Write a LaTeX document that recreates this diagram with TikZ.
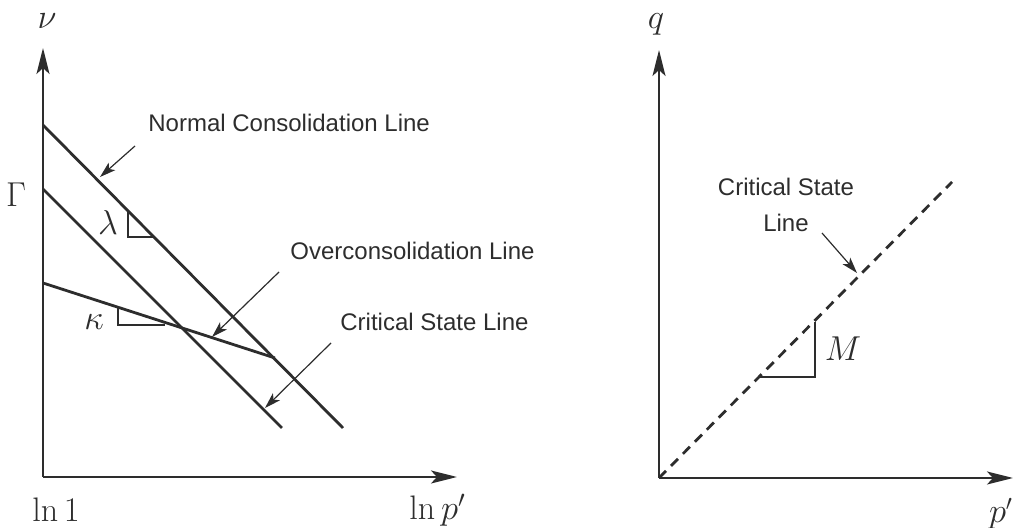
\documentclass[tikz,border=0pt]{standalone}
\usepackage{fontspec}
\newfontfamily\lblfont{Liberation Sans}
\usetikzlibrary{arrows.meta}
\definecolor{ink}{RGB}{45,45,45}
\begin{document}
\begin{tikzpicture}[x=0.5pt,y=-0.5pt,
  axis/.style={line width=1.2pt, draw=ink, -{Stealth[length=13pt,width=6.5pt,inset=3pt]}},
  curve/.style={line width=1.4pt, draw=ink},
  csl/.style={line width=1.4pt, draw=ink, dash pattern=on 5pt off 3.5pt},
  pointer/.style={line width=0.6pt, draw=ink, -{Stealth[length=8pt,width=5pt,inset=2pt]}},
  leg/.style={line width=0.6pt, draw=ink},
  lbl/.style={inner sep=0pt, text=ink, font=\lblfont\fontsize{12}{18}\selectfont},
  mlbl/.style={inner sep=0pt, text=ink, font=\fontsize{16}{18}\selectfont},
  lnlbl/.style={inner sep=0pt, text=ink, font=\fontsize{17}{18}\selectfont},
]
\useasboundingbox (0,0) rectangle (1018,528);

% ---------- left diagram ----------
\coordinate (O1) at (43,477);
\coordinate (Vt) at (43,48);
\coordinate (Ht) at (457,477);
\draw[axis] (O1) -- (Vt);
\draw[axis] (O1) -- (Ht);

\node[mlbl,font=\fontsize{18}{18}\selectfont] (nu) at (47,21) {$\nu$};
\node[mlbl] (Gam) at (16,195) {$\Gamma$};
\node[lnlbl] (ln1) at (56,510) {$\ln 1$};
\node[lnlbl,anchor=west] (lnp) at (409,510) {$\ln p'$};

\coordinate (ncl0) at (43,125);
\coordinate (ncl1) at (343,428);
\coordinate (cs0) at (43,189);
\coordinate (cs1) at (282,428);
\coordinate (ocl0) at (43,283);
\coordinate (ocl1) at (275,358);
\draw[curve] (ncl0) -- (ncl1);
\draw[curve] (cs0) -- (cs1);
\draw[curve,line join=round] (ocl0) -- (ocl1);

% slope triangles
\coordinate (lamA) at (128,211);
\coordinate (lamB) at (128,237);
\coordinate (lamC) at (153,237);
\draw[leg] (lamA) -- (lamB) -- (lamC);
\node[mlbl] (lam) at (108,223) {$\lambda$};

\coordinate (kapA) at (118,307);
\coordinate (kapB) at (118,325);
\coordinate (kapC) at (165,325);
\draw[leg] (kapA) -- (kapB) -- (kapC);
\node[mlbl] (kap) at (94,322) {$\kappa$};

% labels and pointers
\node[lbl,anchor=west] (nclL) at (148,123) {Normal Consolidation Line};
\coordinate (nclP0) at (135,146);
\coordinate (nclP1) at (100,177);
\draw[pointer] (nclP0) -- (nclP1);

\node[lbl,anchor=west] (oclL) at (290,251) {Overconsolidation Line};
\coordinate (oclP0) at (279,272);
\coordinate (oclP1) at (212,337);
\draw[pointer] (oclP0) -- (oclP1);

\node[lbl,anchor=west] (cslL) at (340,322) {Critical State Line};
\coordinate (cslP0) at (331,343);
\coordinate (cslP1) at (265,408);
\draw[pointer] (cslP0) -- (cslP1);

% ---------- right diagram ----------
\coordinate (O2) at (659,478);
\coordinate (Qt) at (659,50);
\coordinate (Pt) at (1013,478);
\draw[axis] (O2) -- (Qt);
\draw[axis] (O2) -- (Pt);

\node[mlbl] (q) at (656,24) {$q$};
\node[mlbl] (pp) at (1001,514) {$p'$};

\coordinate (csR1) at (952,182);
\draw[csl] (O2) -- (csR1);

\coordinate (mA) at (760,377);
\coordinate (mB) at (815,377);
\coordinate (mC) at (815,322);
\draw[leg] (mA) -- (mB) -- (mC);
\node[mlbl] (M) at (843,349) {$M$};

\node[lbl,align=center] (cslR) at (786,205) {Critical State\\Line};
\coordinate (cslRP0) at (822,233);
\coordinate (cslRP1) at (857,273);
\draw[pointer] (cslRP0) -- (cslRP1);
\end{tikzpicture}
\end{document}
